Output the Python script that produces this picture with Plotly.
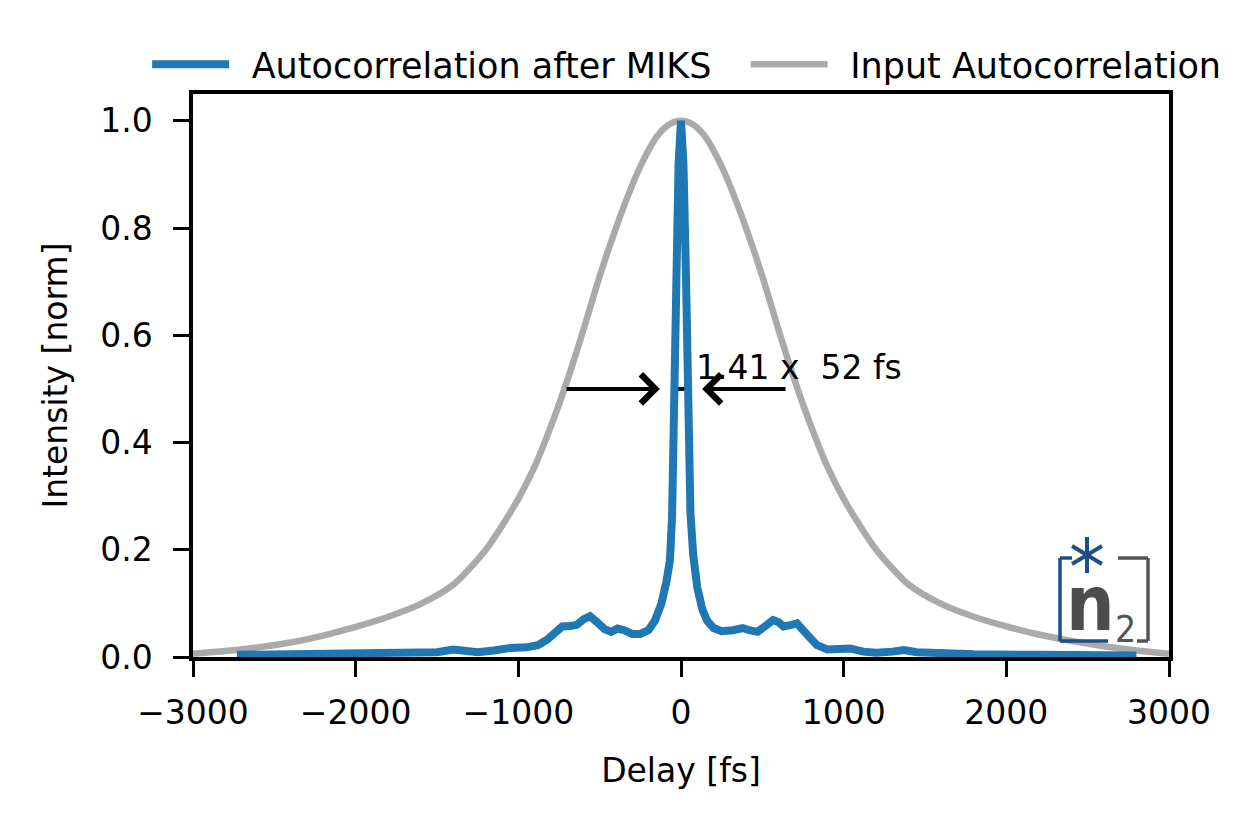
import plotly.graph_objects as go

# ---- data ----
input_delay = [-3000, -2800, -2600, -2400, -2200, -2000, -1800, -1600, -1400, -1300, -1200, -1100, -1000,
               -900, -800, -700, -600, -500, -400, -300, -250, -200, -150, -100, -50, 0,
               50, 100, 150, 200, 250, 300, 400, 500, 600, 700, 800, 900, 1000, 1100, 1200, 1300, 1400, 1600,
               1800, 2000, 2200, 2400, 2600, 2800, 3000]
input_ac = [0.006, 0.011, 0.018, 0.027, 0.040, 0.056, 0.075, 0.099, 0.135, 0.165, 0.20, 0.245, 0.295,
            0.355, 0.43, 0.515, 0.61, 0.71, 0.80, 0.88, 0.915, 0.945, 0.970, 0.987, 0.997, 1.0,
            0.997, 0.987, 0.970, 0.945, 0.915, 0.88, 0.80, 0.71, 0.61, 0.515, 0.43, 0.355, 0.295, 0.245, 0.20,
            0.165, 0.135, 0.099,
            0.075, 0.057, 0.042, 0.030, 0.020, 0.012, 0.006]

miks_delay = [-2730, -2400, -2000, -1800, -1600, -1500, -1400, -1330, -1250, -1150, -1050, -950,
              -880, -820, -770, -730, -680, -640, -600, -560, -520, -470, -430, -390, -350,
              -300, -250, -200, -160, -120, -90, -68, -55, -45, -30, -15, 0,
              15, 30, 45, 58, 75, 100, 130, 160, 200, 250, 320, 380, 420, 470, 520, 566,
              600, 630, 680, 713, 750, 800, 836, 900, 960, 1000, 1040, 1120, 1200, 1300,
              1370, 1450, 1600, 1800, 2200, 2800]
miks_ac = [0.004, 0.005, 0.005, 0.006, 0.007, 0.009, 0.014, 0.012, 0.009, 0.012, 0.017, 0.018,
           0.022, 0.033, 0.048, 0.057, 0.058, 0.060, 0.070, 0.076, 0.066, 0.052, 0.047, 0.053, 0.050,
           0.043, 0.043, 0.050, 0.068, 0.10, 0.14, 0.18, 0.26, 0.45, 0.72, 0.92, 1.0,
           0.92, 0.72, 0.47, 0.27, 0.19, 0.13, 0.09, 0.068, 0.054, 0.048, 0.050, 0.054, 0.050, 0.047, 0.058, 0.069,
           0.065, 0.057, 0.060, 0.063, 0.050, 0.032, 0.022, 0.014, 0.015, 0.019, 0.016, 0.010, 0.008, 0.010,
           0.013, 0.009, 0.006, 0.005, 0.004, 0.003]

x_ticks = [-3000, -2000, -1000, 0, 1000, 2000, 3000]
y_ticks = [0.0, 0.2, 0.4, 0.6, 0.8, 1.0]

fwhm_factor = 1.41
fwhm_fs = 52
half_level = 0.5
arrow_left = (-713, -130)
arrow_right = (652, 130)
label_pos = (82, 0.54)

FONT = "DejaVu Sans"
BLUE = "#1f77b4"
GRAY = "#aaaaaa"
LOGO_BLUE = "#1d4f86"
LOGO_GRAY = "#555555"

fig = go.Figure()
fig.add_trace(go.Scatter(x=input_delay, y=input_ac, mode="lines", name="\u2002Input Autocorrelation",
                         line=dict(color=GRAY, width=6.5, shape="spline", smoothing=0.8)))
fig.add_trace(go.Scatter(x=miks_delay, y=miks_ac, mode="lines",
                         name="\u2002Autocorrelation after MIKS\u00a0\u00a0\u2009",
                         line=dict(color=BLUE, width=8)))

# FWHM marker and arrows
half_w = fwhm_factor * fwhm_fs / 2
fig.add_shape(type="line", x0=-half_w, x1=half_w, y0=half_level, y1=half_level,
              xref="x", yref="y", line=dict(color="black", width=4), layer="below")
for tail, head in (arrow_left, arrow_right):
    fig.add_annotation(x=head, y=half_level, ax=tail, ay=half_level, axref="x", ayref="y",
                       xref="x", yref="y", text="", showarrow=True, arrowhead=4,
                       arrowsize=1.4, arrowwidth=4, arrowcolor="black")
fig.add_annotation(x=label_pos[0], y=label_pos[1], xref="x", yref="y",
                   text=f"{fwhm_factor} x\u00a0 {fwhm_fs} fs", showarrow=False,
                   xanchor="left", yanchor="middle", font=dict(family=FONT, size=33, color="black"))

# ---- n2 logo (decoration, paper coordinates) ----
def px(xp):
    return (xp - 193) / 976

def py(yp):
    return (657 - yp) / 563

logo_lines = [
    # blue bracket
    (1060, 558, 1060, 641, LOGO_BLUE, 3.5), (1060, 558, 1072, 558, LOGO_BLUE, 3.5),
    (1060, 641, 1108, 641, LOGO_BLUE, 3.5),
    # asterisk
    (1087, 537, 1087, 573, LOGO_BLUE, 4), (1072, 546, 1102, 564, LOGO_BLUE, 4),
    (1072, 564, 1102, 546, LOGO_BLUE, 4),
    # gray bracket
    (1118, 558, 1148, 558, LOGO_GRAY, 3.5), (1148, 558, 1148, 641, LOGO_GRAY, 3.5),
    (1137, 641, 1148, 641, LOGO_GRAY, 3.5),
]
for x0, y0, x1, y1, c, w in logo_lines:
    fig.add_shape(type="line", xref="paper", yref="paper", x0=px(x0), y0=py(y0), x1=px(x1), y1=py(y1),
                  line=dict(color=c, width=w))
NARROW = "Liberation Sans Narrow, DejaVu Sans Condensed, DejaVu Sans"
fig.add_annotation(xref="paper", yref="paper", x=px(1090), y=py(603), text="<b>n</b>", showarrow=False,
                   xanchor="center", yanchor="middle", font=dict(family=NARROW, size=76, color="#4d4d4d"))
fig.add_annotation(xref="paper", yref="paper", x=px(1125), y=py(629), text="2", showarrow=False,
                   xanchor="center", yanchor="middle", font=dict(family=NARROW, size=37, color=LOGO_GRAY))

axis_common = dict(showline=True, linecolor="black", linewidth=3.5, mirror=True, ticks="outside",
                   ticklen=16, tickwidth=3, tickcolor="black", showgrid=False, zeroline=False,
                   tickfont=dict(family=FONT, size=33, color="black"))

fig.update_xaxes(range=[-3000, 3000], tickvals=x_ticks, ticklabelstandoff=8, **axis_common,
                 title=dict(text="Delay [fs]", font=dict(family=FONT, size=33, color="black"), standoff=29))
fig.update_yaxes(range=[0, 1.05], tickvals=y_ticks, tickformat=".1f", ticklabelstandoff=14, **axis_common,
                 title=dict(text="Intensity [norm]", font=dict(family=FONT, size=33, color="black"), standoff=24))

# page body adds an 8 px offset; the figure is sized to fill the rest of the window
fig.update_layout(
    width=1243, height=826,
    margin=dict(l=185, r=82, t=86, b=177, autoexpand=False),
    plot_bgcolor="white", paper_bgcolor="white",
    showlegend=True,
    legend=dict(orientation="h", traceorder="reversed", x=-0.047, y=1.0, xanchor="left", yanchor="bottom",
                font=dict(family=FONT, size=35, color="black"), itemwidth=77,
                bgcolor="rgba(0,0,0,0)"),
)

fig.write_html("out.html")
